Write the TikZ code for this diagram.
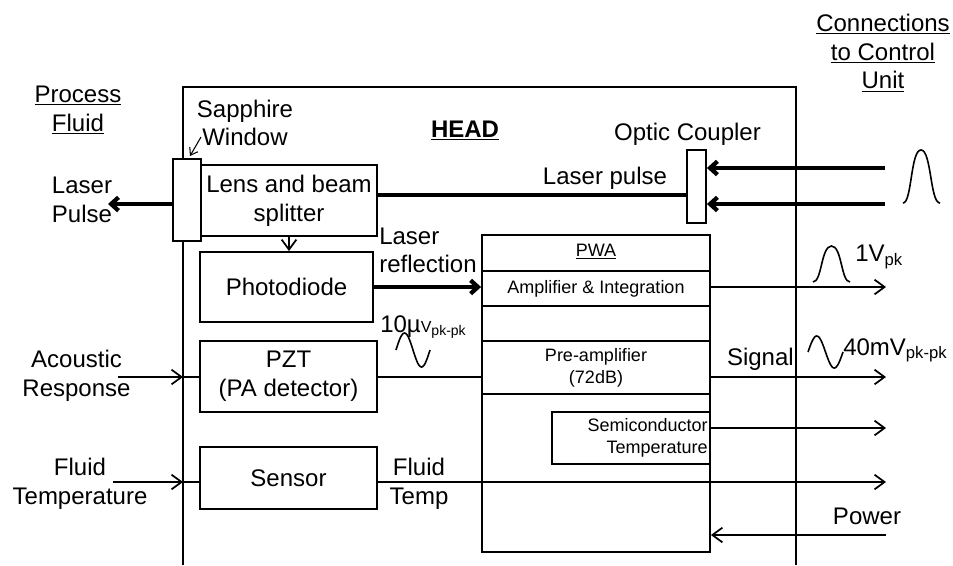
\documentclass[tikz,border=0pt]{standalone}
\usepackage{fontspec}
\setmainfont{Liberation Sans}
\usetikzlibrary{arrows.meta}
\begin{document}
\begin{tikzpicture}[x=0.75pt,y=-0.75pt,
  mainfont/.style={font=\fontsize{18}{21.5}\selectfont},
  smallfont/.style={font=\fontsize{13.5}{16.5}\selectfont},
  boxst/.style={draw, line width=1.4pt, inner sep=0pt, align=center, mainfont},
  txt/.style={inner sep=0pt, align=center, mainfont},
  smtxt/.style={inner sep=0pt, align=center, smallfont},
  frame/.style={line width=1.4pt},
  thinln/.style={line width=1.3pt},
  thinarr/.style={line width=1.3pt, -{Straight Barb[length=7.5pt,width=11pt]}},
  thickln/.style={line width=3.2pt},
  thickarr/.style={line width=3.2pt, -{Straight Barb[length=5.5pt,width=10pt]}},
  smallarr/.style={line width=0.8pt, -{Straight Barb[length=5pt,width=7pt]}},
  wave/.style={line width=1.2pt}
]
\useasboundingbox (0,0) rectangle (953,565);

% HEAD enclosure (open at bottom)
\coordinate (hbl) at (183,565);
\coordinate (htl) at (183,87);
\coordinate (htr) at (796,87);
\coordinate (hbr) at (796,565);
\draw[frame] (hbl) -- (htl) -- (htr) -- (hbr);

% boxes
\node[boxst, minimum width=132pt, minimum height=53.25pt] (lens) at (289,200.5) {Lens and beam\\splitter};
\node[boxst, fill=white, minimum width=21pt, minimum height=61.5pt] (sapph) at (187,200) {};
\node[boxst, fill=white, minimum width=14.25pt, minimum height=54.75pt] (coupler) at (696.5,186.5) {};
\node[boxst, minimum width=129.75pt, minimum height=52.5pt] (photo) at (286.5,287) {Photodiode};
\node[boxst, minimum width=132.75pt, minimum height=53.25pt] (pzt) at (288.5,376.5) {PZT\\(PA detector)};
\node[boxst, minimum width=132.75pt, minimum height=46.5pt] (sensor) at (288.5,478) {Sensor};
\node[boxst, minimum width=171pt, minimum height=237.75pt] (pwa) at (596,393.5) {};
\node[boxst, minimum width=118.5pt, minimum height=39pt] (semi) at (631,438) {};

% PWA section lines
\coordinate (s1) at (596,271);
\coordinate (s2) at (596,306);
\coordinate (s3) at (596,341);
\coordinate (s4) at (596,394);
\foreach \s in {s1,s2,s3,s4}{\draw[frame] (pwa.west |- \s) -- (pwa.east |- \s);}

% PWA texts
\node[smtxt] (pwat) at (596,252) {\underline{PWA}};
\node[smtxt] (ampt) at (596,288.5) {Amplifier \& Integration};
\node[smtxt] (pret) at (596,368) {Pre-amplifier\\(72dB)};
\node[smtxt, align=right, anchor=east] (semit) at (708,438) {Semiconductor\\Temperature};

% labels
\node[txt] (procf) at (78,110) {\underline{Process}\\\underline{Fluid}};
\node[txt] (lpl) at (82,200) {Laser\\Pulse};
\node[txt] (sapt) at (245,123) {Sapphire\\Window};
\node[txt, anchor=base, font=\fontsize{18}{21.5}\selectfont\bfseries] (headt) at (465,137) {\underline{HEAD}};
\node[txt, anchor=base] (optt) at (687.5,140) {Optic Coupler};
\node[txt, anchor=base] (lpt) at (605,184) {Laser pulse};
\node[txt] (conn) at (883,53) {\underline{Connections}\\\underline{to Control}\\\underline{Unit}};
\node[txt, align=left, anchor=west] (lrefl) at (379,250.5) {Laser\\reflection};
\node[txt] (acr) at (76.5,375.5) {Acoustic\\Response};
\node[txt] (flt) at (80,483.5) {Fluid\\Temperature};
\node[txt] (fltemp) at (419,484) {Fluid\\Temp};
\node[txt, anchor=base east] (sigt) at (794,365) {Signal};
\node[txt, anchor=base] (powt) at (867,524) {Power};
\node[inner sep=0pt, anchor=base west] (uvt) at (380,332) {\fontsize{18}{21}\selectfont 10µ\fontsize{12}{14}\selectfont V\raisebox{-2.5pt}{\fontsize{10.5}{12}\selectfont pk-pk}};
\node[inner sep=0pt, anchor=base west] (onev) at (855,261) {\fontsize{18}{21}\selectfont 1V\raisebox{-3pt}{\fontsize{12.5}{14}\selectfont pk}};
\node[inner sep=0pt, anchor=base west] (fortym) at (843,355) {\fontsize{18}{21}\selectfont 40mV\raisebox{-2.5pt}{\fontsize{12.5}{14}\selectfont pk-pk}};

% sapphire pointer
\coordinate (swa) at (201,137);
\coordinate (swb) at (190,156);
\draw[smallarr] (swa) -- (swb);

% optical paths
\coordinate (lpo) at (108,204);
\draw[thickarr] (sapph.west |- lpo) -- (lpo);
\coordinate (lcy) at (500,195);
\draw[thickln] (lens.east |- lcy) -- (coupler.west |- lcy);
\coordinate (in1) at (885,168);
\coordinate (in2) at (885,204);
\draw[thickarr] (in1) -- (in1 -| coupler.east);
\draw[thickarr] (in2) -- (in2 -| coupler.east);
\draw[thinarr] (lens.south) -- (lens.south |- photo.north);
\draw[thickarr] (photo.east) -- (photo.east -| pwa.west);

% PZT
\coordinate (acin) at (118,377);
\coordinate (acw) at (183,377);
\coordinate (pzl) at (430,377);
\draw[thinarr] (acin) -- (acw);
\draw[thinln] (acw) -- (acw -| pzt.west);
\draw[thinln] (pzt.east |- pzl) -- (pwa.west |- pzl);

% Sensor
\coordinate (ftin) at (113,482);
\coordinate (ftw) at (183,482);
\coordinate (ftout) at (886,482);
\draw[thinarr] (ftin) -- (ftw);
\draw[thinln] (ftw) -- (ftw -| sensor.west);
\draw[thinarr] (sensor.east |- ftout) -- (ftout);

% outputs
\coordinate (o1) at (886,287);
\coordinate (o2) at (886,377);
\coordinate (o3) at (886,428);
\coordinate (pwin) at (886,535);
\draw[thinarr] (pwa.east |- o1) -- (o1);
\draw[thinarr] (pwa.east |- o2) -- (o2);
\draw[thinarr] (semi.east |- o3) -- (o3);
\draw[thinarr] (pwin) -- (pwin -| pwa.east);

% waveforms
\draw[wave] (903,203) .. controls (912,203) and (910.5,150) .. (921,150) .. controls (931.5,150) and (930,203) .. (940,203);
\draw[wave] (813,282) .. controls (822,282) and (821,246) .. (831.5,246) .. controls (842,246) and (841,282) .. (850,282);
\draw[wave] plot[domain=0:34, samples=50, smooth] ({396+\x},{350-17*sin(\x*360/34)});
\draw[wave] plot[domain=0:35, samples=50, smooth] ({808+\x},{352-16*sin(\x*360/35)});
\end{tikzpicture}
\end{document}
